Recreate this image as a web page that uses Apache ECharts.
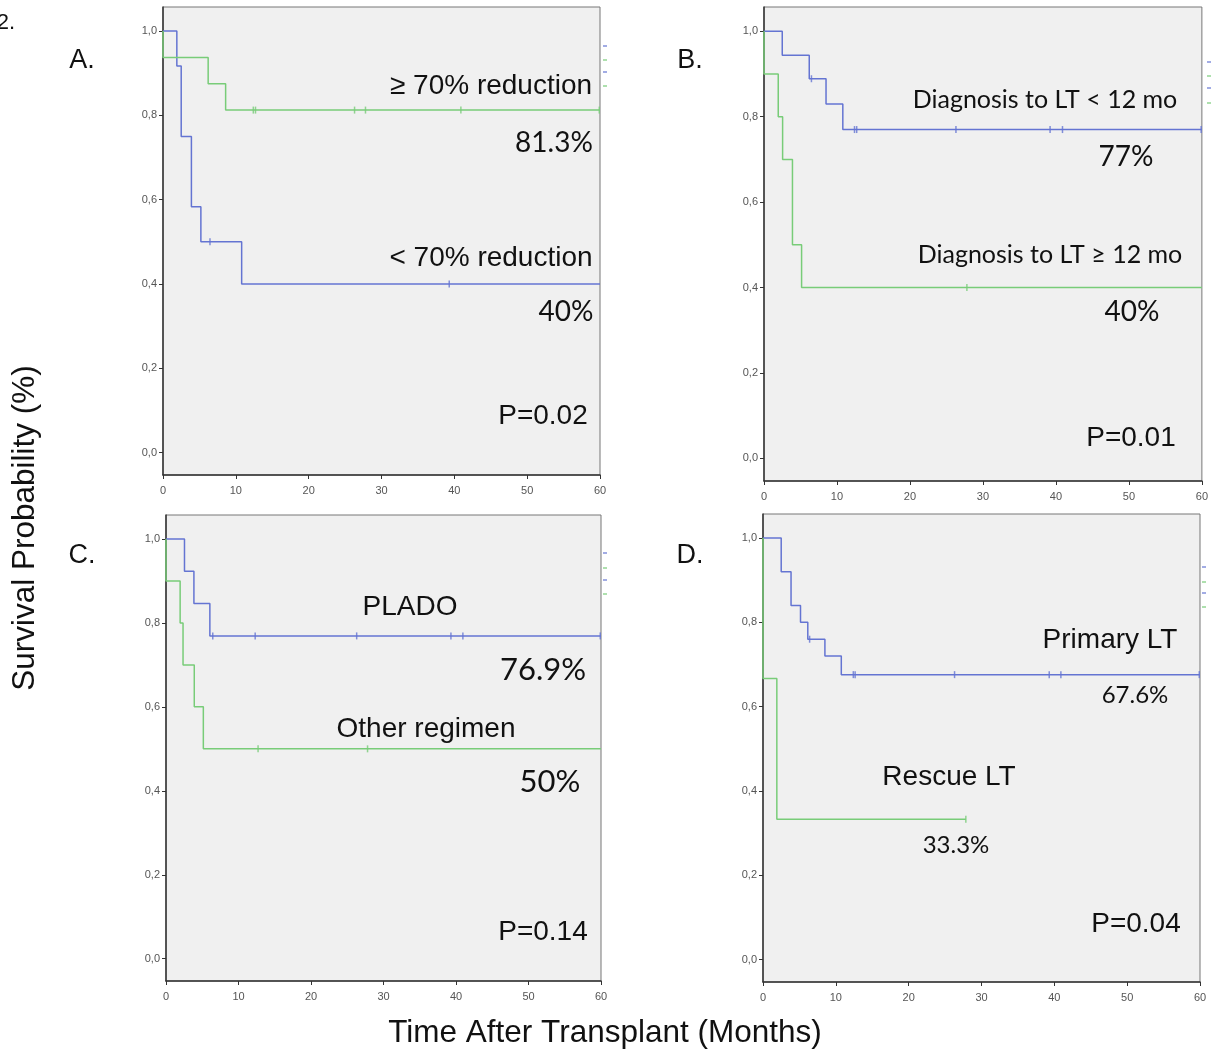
<!DOCTYPE html>
<html>
<head>
<meta charset="utf-8">
<script src="https://cdn.jsdelivr.net/npm/echarts@6/dist/echarts.min.js"></script>
<style>
  html, body { margin: 0; padding: 0; background: #fff; }
  #chart { width: 1211px; height: 1051px; }
</style>
</head>
<body>
<div id="chart"></div>
<script>
// axis ticks
const xTicks = [0, 10, 20, 30, 40, 50, 60]
const yTicks = [0, 0.2, 0.4, 0.6, 0.8, 1.0]

// A. tumour reduction
const aHighTime = [0, 0, 6.2, 8.6, 60]
const aHighSurv = [1, 0.9375, 0.875, 0.8125, 0.8125]
const aHighCensor = [12.4, 12.7, 26.3, 27.8, 40.9, 59.9]
const aLowTime = [0, 1.9, 2.5, 3.9, 5.2, 10.8, 60]
const aLowSurv = [1, 0.917, 0.75, 0.583, 0.5, 0.4, 0.4]
const aLowCensor = [6.45, 39.3]

// B. diagnosis to LT
const bEarlyTime = [0, 2.5, 6.2, 8.5, 10.8, 60]
const bEarlySurv = [1, 0.944, 0.889, 0.83, 0.77, 0.77]
const bEarlyCensor = [6.5, 12.4, 12.7, 26.3, 39.2, 40.9, 59.9]
const bLateTime = [0, 0, 1.95, 2.55, 3.9, 5.15, 60]
const bLateSurv = [1, 0.9, 0.8, 0.7, 0.5, 0.4, 0.4]
const bLateCensor = [27.8]

// C. regimen
const cPladoTime = [0, 2.55, 3.85, 6.05, 60]
const cPladoSurv = [1, 0.923, 0.846, 0.769, 0.769]
const cPladoCensor = [6.45, 12.3, 26.3, 39.3, 40.95, 59.9]
const cOtherTime = [0, 0, 1.95, 2.35, 3.9, 5.15, 60]
const cOtherSurv = [1, 0.9, 0.8, 0.7, 0.6, 0.5, 0.5]
const cOtherCensor = [12.7, 27.8]

// D. primary vs rescue
const dPrimaryTime = [0, 2.5, 3.85, 5.15, 6.15, 8.5, 10.75, 60]
const dPrimarySurv = [1, 0.92, 0.84, 0.8, 0.76, 0.72, 0.676, 0.676]
const dPrimaryCensor = [6.4, 12.4, 12.65, 26.3, 39.3, 40.9, 59.9]
const dRescueTime = [0, 0, 1.9, 27.85]
const dRescueSurv = [1, 0.667, 0.333, 0.333]
const dRescueCensor = [27.85]

const BLUE = '#6474d2'
const GREEN = '#78cc78'
const ARIAL = '"Liberation Sans", Arial, sans-serif'
const CALI = 'Lato, "Open Sans", sans-serif'

const grids = [
  { left: 163, top: 7, width: 437, height: 468 },
  { left: 764, top: 7, width: 442, height: 474 },
  { left: 166, top: 515, width: 435, height: 466 },
  { left: 763, top: 514, width: 437, height: 468 }
]

const curves = [
  [aLowTime, aLowSurv, aLowCensor, BLUE, 0],
  [aHighTime, aHighSurv, aHighCensor, GREEN, 0],
  [bEarlyTime, bEarlySurv, bEarlyCensor, BLUE, 1],
  [bLateTime, bLateSurv, bLateCensor, GREEN, 1],
  [cPladoTime, cPladoSurv, cPladoCensor, BLUE, 2],
  [cOtherTime, cOtherSurv, cOtherCensor, GREEN, 2],
  [dPrimaryTime, dPrimarySurv, dPrimaryCensor, BLUE, 3],
  [dRescueTime, dRescueSurv, dRescueCensor, GREEN, 3]
]

// survival value of a step curve at time t
function survAt(times, surv, t) {
  let v = surv[0]
  for (let i = 0; i < times.length; i++) {
    if (times[i] <= t) v = surv[i]
  }
  return v
}

const series = []
curves.forEach(([t, s, c, color, g]) => {
  series.push({
    type: 'line',
    step: 'end',
    xAxisIndex: g,
    yAxisIndex: g,
    showSymbol: false,
    lineStyle: { color: color, width: 1.5 },
    data: t.map((x, i) => [x, s[i]])
  })
  series.push({
    type: 'scatter',
    xAxisIndex: g,
    yAxisIndex: g,
    symbol: 'rect',
    symbolSize: [1.5, 7],
    itemStyle: { color: color },
    data: c.map(x => [x, survAt(t, s, x)])
  })
})

const xAxis = grids.map((_, i) => ({
  type: 'value',
  gridIndex: i,
  min: 0,
  max: 60,
  interval: 10,
  axisLine: { onZero: false, lineStyle: { color: '#333', width: 1.5 } },
  axisTick: { length: 4, lineStyle: { color: '#333' } },
  axisLabel: { color: '#555', fontSize: 11, fontFamily: ARIAL, margin: 10 },
  splitLine: { show: false }
}))

const yAxis = grids.map((_, i) => ({
  type: 'value',
  gridIndex: i,
  min: -0.053,
  max: 1.057,
  axisLine: { show: true, onZero: false, lineStyle: { color: '#333', width: 1.5 } },
  axisTick: { show: true, length: 4, customValues: yTicks, lineStyle: { color: '#333' } },
  axisLabel: {
    color: '#555', fontSize: 11, fontFamily: ARIAL, margin: 6,
    customValues: yTicks,
    formatter: v => v.toFixed(1).replace('.', ',')
  },
  splitLine: { show: false }
}))

function label(text, x, y, size, family) {
  return {
    type: 'text', x: x, y: y, silent: true,
    style: {
      text: text, fill: '#111', fontSize: size, fontFamily: family,
      textAlign: 'center', textVerticalAlign: 'middle'
    }
  }
}

// small cropped legend keys to the right of each panel
function key(x, y, color) {
  return {
    type: 'line', silent: true,
    shape: { x1: x, y1: y, x2: x + 4, y2: y },
    style: { stroke: color, lineWidth: 1.2 }
  }
}

const graphic = [
  label('2.', 6, 23, 22, ARIAL),
  label('A.', 82, 61, 27, ARIAL),
  label('B.', 690, 61, 27, ARIAL),
  label('C.', 82, 556, 27, ARIAL),
  label('D.', 690, 556, 27, ARIAL),

  label('≥ 70% reduction', 491, 86, 28, ARIAL),
  label('81.3%', 554, 143, 28, CALI),
  label('< 70% reduction', 491, 258, 28, ARIAL),
  label('40%', 566, 312, 28, CALI),
  label('P=0.02', 543, 416, 28, ARIAL),

  label('Diagnosis to LT < 12 mo', 1045, 100, 25, CALI),
  label('77%', 1126, 157, 28, CALI),
  label('Diagnosis to LT ≥ 12 mo', 1050, 255, 25, CALI),
  label('40%', 1132, 312, 28, CALI),
  label('P=0.01', 1131, 438, 28, ARIAL),

  label('PLADO', 410, 607, 28, ARIAL),
  label('76.9%', 543, 670, 31, CALI),
  label('Other regimen', 426, 729, 28, ARIAL),
  label('50%', 550, 782, 31, CALI),
  label('P=0.14', 543, 932, 28, ARIAL),

  label('Primary LT', 1110, 640, 28, ARIAL),
  label('67.6%', 1135, 695, 24, CALI),
  label('Rescue LT', 949, 777, 28, ARIAL),
  label('33.3%', 956, 845, 24, CALI),
  label('P=0.04', 1136, 924, 28, ARIAL),

  {
    type: 'text', silent: true, x: 25, y: 528, rotation: Math.PI / 2,
    style: {
      text: 'Survival Probability (%)', fill: '#111', fontSize: 31.5, fontFamily: ARIAL,
      textAlign: 'center', textVerticalAlign: 'middle'
    }
  },
  label('Time After Transplant (Months)', 605, 1033, 31.5, ARIAL),

  key(603, 46, BLUE), key(603, 60, GREEN), key(603, 72, BLUE), key(603, 86, GREEN),
  key(1207, 62, BLUE), key(1207, 76, GREEN), key(1207, 88, BLUE), key(1207, 103, GREEN),
  key(603, 553, BLUE), key(603, 568, GREEN), key(603, 580, BLUE), key(603, 594, GREEN),
  key(1202, 567, BLUE), key(1202, 582, GREEN), key(1202, 593, BLUE), key(1202, 607, GREEN)
]

const chart = echarts.init(document.getElementById('chart'), null, { renderer: 'canvas' })
chart.setOption({
  animation: false,
  backgroundColor: '#fff',
  grid: grids.map(g => Object.assign({
    show: true,
    backgroundColor: '#f0f0f0',
    borderColor: '#777',
    borderWidth: 1
  }, g)),
  xAxis: xAxis,
  yAxis: yAxis,
  series: series,
  graphic: graphic
})
</script>
</body>
</html>
